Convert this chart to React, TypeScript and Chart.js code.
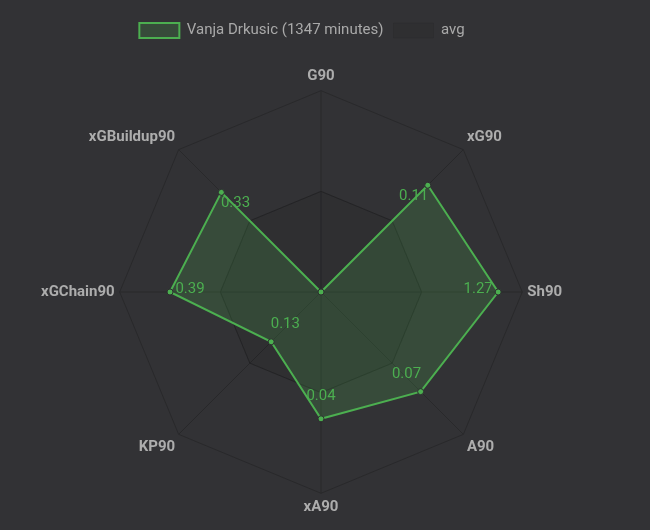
import React, { useEffect, useRef } from "react";
import { Chart, registerables } from "chart.js";

Chart.register(...registerables);

const categories = ["G90", "xG90", "Sh90", "A90", "xA90", "KP90", "xGChain90", "xGBuildup90"];
const playerRaw = [0, 0.11, 1.27, 0.07, 0.04, 0.13, 0.39, 0.33];
const playerScaled = [0, 0.75, 0.88, 0.7, 0.63, 0.35, 0.75, 0.7];
const avgScaled = [0.5, 0.5, 0.5, 0.5, 0.5, 0.5, 0.5, 0.5];
const playerLabel = "Vanja Drkusic (1347 minutes)";
const avgLabel = "avg";

const BG = "#323235";
const GREEN = "#4caf50";
const FONT = "Roboto, 'Noto Sans', sans-serif";

const valueLabels = {
  id: "valueLabels",
  afterDatasetsDraw(chart: any) {
    const meta = chart.getDatasetMeta(0);
    const scale = chart.scales.r;
    const cx = scale.xCenter;
    const cy = scale.yCenter;
    const ctx = chart.ctx;
    ctx.save();
    ctx.font = `15px ${FONT}`;
    ctx.fillStyle = GREEN;
    ctx.textAlign = "center";
    ctx.textBaseline = "middle";
    meta.data.forEach((pt: any, i: number) => {
      const v = playerRaw[i];
      if (!v) return;
      const dx = cx - pt.x;
      const dy = cy - pt.y;
      const d = Math.hypot(dx, dy);
      if (d < 1) return;
      const x = pt.x + (dx / d) * 20;
      const y = pt.y + (dy / d) * 20 - 3;
      ctx.fillText(v.toFixed(2), x, y);
    });
    ctx.restore();
  },
};

export default function App() {
  const ref = useRef<HTMLCanvasElement | null>(null);
  useEffect(() => {
    document.documentElement.style.background = BG;
    document.documentElement.style.overflow = "hidden";
    document.body.style.background = BG;
    document.body.style.overflow = "hidden";
    const chart = new Chart(ref.current as HTMLCanvasElement, {
      type: "radar",
      data: {
        labels: categories,
        datasets: [
          {
            label: playerLabel,
            data: playerScaled,
            borderColor: GREEN,
            backgroundColor: "rgba(76,175,80,0.2)",
            borderWidth: 2,
            pointRadius: 3,
            pointBackgroundColor: GREEN,
            pointBorderColor: "#2e2e30",
            pointBorderWidth: 1,
          },
          {
            label: avgLabel,
            data: avgScaled,
            borderColor: "rgba(0,0,0,0.08)",
            backgroundColor: "rgba(0,0,0,0.06)",
            borderWidth: 1,
            pointRadius: 0,
          },
        ],
      },
      options: {
        responsive: false,
        maintainAspectRatio: false,
        animation: false,
        layout: { padding: { top: 5, left: 13, right: 13, bottom: 0 } },
        plugins: {
          legend: {
            labels: {
              color: "#a9a9a9",
              boxWidth: 40,
              font: { family: FONT, size: 15 },
            },
          },
          tooltip: { enabled: false },
        },
        scales: {
          r: {
            min: 0,
            max: 1,
            ticks: { display: false, stepSize: 0.5 },
            grid: { color: "#29292b" },
            angleLines: { color: "#29292b" },
            pointLabels: {
              color: "#adadad",
              font: { family: FONT, size: 15, weight: "bold" },
            },
          },
        },
      },
      plugins: [valueLabels],
    });
    return () => chart.destroy();
  }, []);
  return (
    <div style={{ width: 586, height: 514, overflow: "hidden", marginLeft: 1 }}>
      <canvas ref={ref} width={586} height={528} />
    </div>
  );
}
